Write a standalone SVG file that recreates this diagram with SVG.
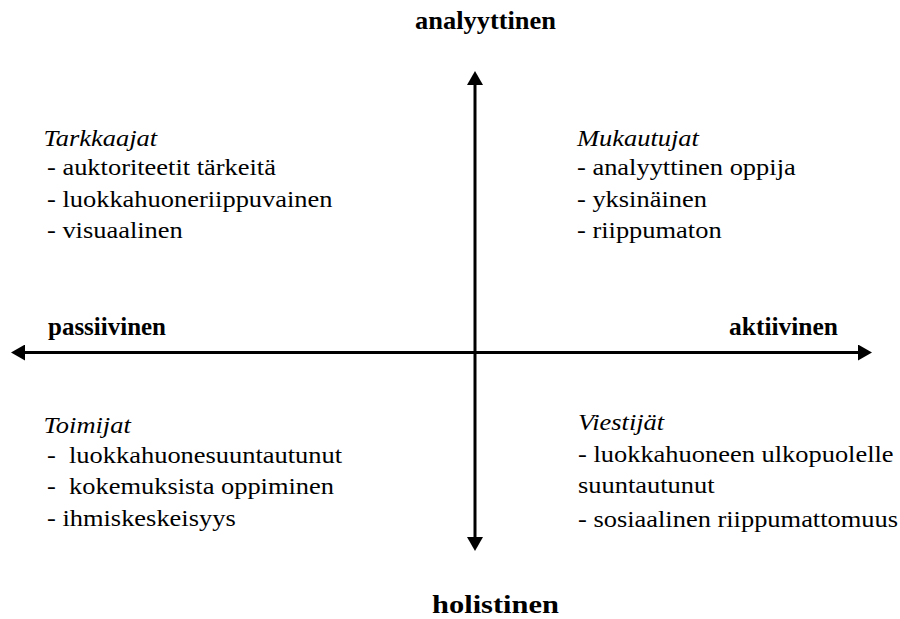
<svg xmlns="http://www.w3.org/2000/svg" width="900" height="619" viewBox="0 0 900 619">
  <style>
    .axis { stroke: #000; stroke-width: 3; fill: none; }
    .head { fill: #000; }
    .pole { font-weight: bold; font-size: 26px; fill: #000; }
    .item { font-size: 23px; fill: #000; white-space: pre; }
    .title { font-style: italic; }
  </style>
  <defs>
    <marker id="arrow" markerUnits="userSpaceOnUse" markerWidth="16" markerHeight="16" viewBox="0 0 14 16" refX="0" refY="8" orient="auto">
      <path class="head" d="M0,0 L14,8 L0,16 Z"/>
    </marker>
  </defs>

  <!-- axes -->
  <g id="connectors">
    <line class="axis" x1="475" y1="311" x2="475" y2="85" marker-end="url(#arrow)"/>
    <line class="axis" x1="475" y1="311" x2="475" y2="537" marker-end="url(#arrow)"/>
    <line class="axis" x1="475" y1="352.5" x2="25" y2="352.5" marker-end="url(#arrow)"/>
    <line class="axis" x1="475" y1="352.5" x2="858" y2="352.5" marker-end="url(#arrow)"/>
  </g>

  <g font-family="'Liberation Serif', 'Times New Roman', 'DejaVu Serif', serif">
    <!-- axis pole labels -->
    <g id="pole-top"><text class="pole" x="415" y="29" textLength="141" lengthAdjust="spacingAndGlyphs">analyyttinen</text></g>
    <g id="pole-bottom"><text class="pole" x="432" y="613" textLength="127" lengthAdjust="spacingAndGlyphs">holistinen</text></g>
    <g id="pole-left"><text class="pole" x="48" y="335" textLength="118" lengthAdjust="spacingAndGlyphs">passiivinen</text></g>
    <g id="pole-right"><text class="pole" x="729" y="335" textLength="109" lengthAdjust="spacingAndGlyphs">aktiivinen</text></g>

    <!-- quadrant: upper left -->
    <g id="tarkkaajat" transform="translate(47,0) scale(1.15,1)">
      <text class="item title" x="-3" y="146">Tarkkaajat</text>
      <text class="item" x="0" y="175">- auktoriteetit tärkeitä</text>
      <text class="item" x="0" y="207">- luokkahuoneriippuvainen</text>
      <text class="item" x="0" y="238">- visuaalinen</text>
    </g>

    <!-- quadrant: upper right -->
    <g id="mukautujat" transform="translate(577,0) scale(1.15,1)">
      <text class="item title" x="0" y="146">Mukautujat</text>
      <text class="item" x="0" y="175">- analyyttinen oppija</text>
      <text class="item" x="0" y="207">- yksinäinen</text>
      <text class="item" x="0" y="238">- riippumaton</text>
    </g>

    <!-- quadrant: lower left -->
    <g id="toimijat" transform="translate(47,0) scale(1.15,1)">
      <text class="item title" x="-3" y="433">Toimijat</text>
      <text class="item" x="0" y="463">-  luokkahuonesuuntautunut</text>
      <text class="item" x="0" y="494">-  kokemuksista oppiminen</text>
      <text class="item" x="0" y="526">- ihmiskeskeisyys</text>
    </g>

    <!-- quadrant: lower right -->
    <g id="viestijat" transform="translate(578,0) scale(1.15,1)">
      <text class="item title" x="0" y="430">Viestijät</text>
      <text class="item" x="0" y="462">- luokkahuoneen ulkopuolelle</text>
      <text class="item" x="0" y="493">suuntautunut</text>
      <text class="item" x="0" y="527">- sosiaalinen riippumattomuus</text>
    </g>
  </g>
</svg>
